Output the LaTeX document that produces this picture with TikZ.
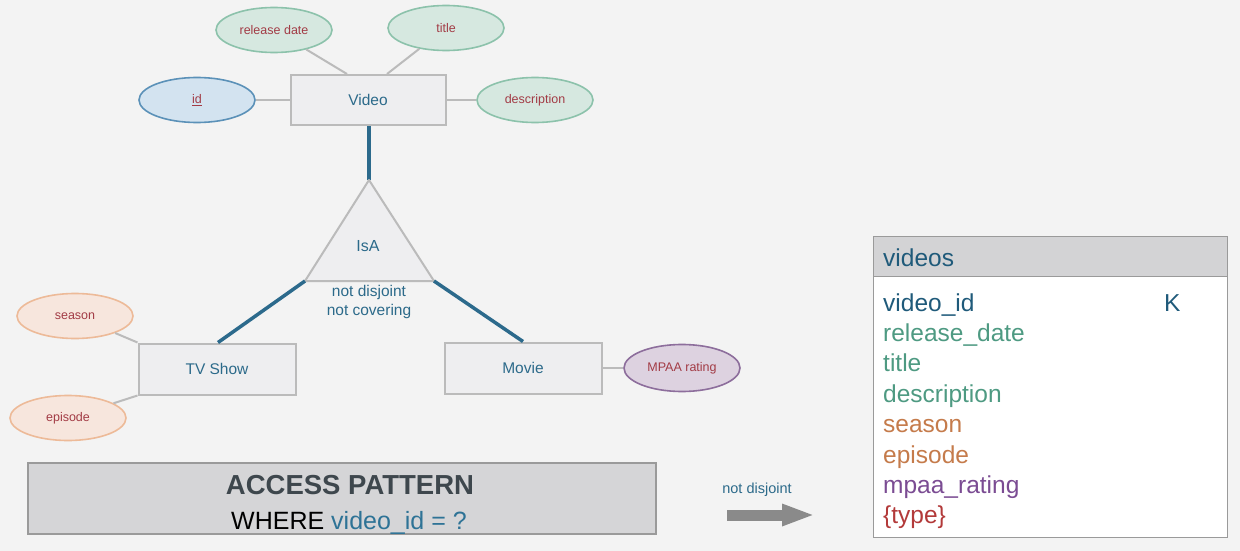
\documentclass[tikz,border=0pt]{standalone}
\usepackage{fontspec}
\setmainfont{Liberation Sans}
\usetikzlibrary{shapes.geometric,arrows.meta}
\definecolor{bg}{HTML}{F3F3F3}
\definecolor{entb}{HTML}{BBBBBB}
\definecolor{entf}{HTML}{EEEEF0}
\definecolor{entt}{HTML}{2C6A8A}
\definecolor{attrt}{HTML}{A23B45}
\definecolor{grf}{HTML}{D6E8E0}
\definecolor{grb}{HTML}{8CC2AB}
\definecolor{blf}{HTML}{D3E3F0}
\definecolor{blb}{HTML}{5B91B8}
\definecolor{saf}{HTML}{F7E6DD}
\definecolor{sab}{HTML}{EDBA98}
\definecolor{puf}{HTML}{DDD2E0}
\definecolor{pub}{HTML}{8D6E9C}
\definecolor{lineg}{HTML}{BBBBBB}
\definecolor{blu}{HTML}{2C6A8C}
\definecolor{apf}{HTML}{D5D5D7}
\definecolor{apb}{HTML}{9A9A9A}
\definecolor{apt}{HTML}{3E474D}
\definecolor{wblue}{HTML}{2E7396}
\definecolor{arrg}{HTML}{8A8A8A}
\definecolor{hdf}{HTML}{D3D3D5}
\definecolor{tid}{HTML}{1F5A7A}
\definecolor{tgreen}{HTML}{4E9A82}
\definecolor{torange}{HTML}{C57B4B}
\definecolor{tpurple}{HTML}{7B4C93}
\definecolor{tred}{HTML}{B33A3A}
\begin{document}
\begin{tikzpicture}[x=1pt,y=-1pt,
  entity/.style={draw=entb, line width=2pt, fill=entf, minimum width=155pt, minimum height=50pt, inner sep=0pt, text=entt, font=\fontsize{15.5}{18}\selectfont},
  attr/.style={ellipse, line width=1.6pt, minimum width=116pt, minimum height=45pt, inner sep=0pt, text=attrt, font=\fontsize{12.5}{15}\selectfont},
  gattr/.style={attr, draw=grb, fill=grf},
  battr/.style={attr, draw=blb, fill=blf},
  sattr/.style={attr, draw=sab, fill=saf},
  pattr/.style={attr, draw=pub, fill=puf},
  conn/.style={draw=lineg, line width=2pt},
  isaline/.style={draw=blu, line width=3.5pt},
  bluetext/.style={text=entt, inner sep=0pt, font=\fontsize{15.5}{19}\selectfont},
  rowtext/.style={anchor=base west, inner sep=0pt, font=\fontsize{24.5}{28}\selectfont},
]
\fill[bg] (0,0) rectangle (1240,551);
\useasboundingbox (0,0) rectangle (1240,551);

% ER diagram
\node[entity] (video) at (368,100) {Video};
\node[gattr] (reldate) at (274,30) {release date};
\node[gattr] (title) at (446,28) {title};
\node[battr] (id) at (197,100) {\underline{id}};
\node[gattr] (desc) at (535,100) {description};

\draw[conn] ([xshift=-21pt]video.north) -- (reldate);
\draw[conn] ([xshift=19pt]video.north) -- (title);
\draw[conn] (video.west) -- (id);
\draw[conn] (video.east) -- (desc);

\coordinate (apex) at (369,180);
\coordinate (bl) at (305,281);
\coordinate (br) at (434,281);
\draw[isaline] (video.south -| apex) -- (apex);
\filldraw[fill=entf, draw=entb, line width=2pt, line join=round] (apex) -- (bl) -- (br) -- cycle;
\node[bluetext, font=\fontsize{16}{19}\selectfont] (isa) at (368,246) {IsA};
\node[bluetext, align=center] (isanote) at (369,302) {not disjoint\\not covering};

\node[entity, minimum width=157pt, minimum height=51pt] (tv) at (217,369) {TV Show};
\node[entity, minimum width=157pt, minimum height=51pt] (movie) at (523,368) {Movie};
\draw[isaline] (bl) -- ([xshift=1pt]tv.north);
\draw[isaline] (br) -- (movie.north);

\node[sattr] (season) at (75,316) {season};
\node[sattr] (episode) at (68,418) {episode};
\node[pattr, minimum height=47pt] (mpaa) at (682,368) {MPAA rating};
\draw[conn] (tv.north west) -- (season);
\draw[conn] (tv.south west) -- (episode);
\draw[conn] (movie.east) -- (mpaa);

% access pattern
\node[draw=apb, fill=apf, line width=1.2pt, minimum width=628pt, minimum height=71pt, inner sep=0pt] (access) at (342,498.5) {};
\node[anchor=base, inner sep=0pt, text=apt, font=\fontsize{27.5}{30}\selectfont\bfseries] (aptitle) at (350,494) {ACCESS PATTERN};
\node[anchor=base, inner sep=0pt, font=\fontsize{25}{28}\selectfont] (apwhere) at (349,529) {WHERE \textcolor{wblue}{video\_id = ?}};

% arrow
\node[bluetext, font=\fontsize{14.5}{17}\selectfont] (nd) at (757,490) {not disjoint};
\coordinate (arrs) at (727,515);
\coordinate (arre) at (815,515);
\draw[draw=arrg, line width=11pt, -{Triangle[length=33pt,width=20pt]}] (arrs) -- (arre);

% table
\node[draw=apb, fill=white, line width=1.2pt, anchor=north west, minimum width=354pt, minimum height=301pt, inner sep=0pt] (tbody) at (873,236) {};
\node[draw=apb, fill=hdf, line width=1.2pt, anchor=north west, minimum width=354pt, minimum height=40pt, inner sep=0pt] (thead) at (873,236) {};
\node[rowtext, text=tid] (thname) at (883,266) {videos};
\node[rowtext, text=tid] (r1) at (883,311) {video\_id};
\node[rowtext, text=tid] (rk) at (1164,311) {K};
\node[rowtext, text=tgreen] (r2) at (883,341.4) {release\_date};
\node[rowtext, text=tgreen] (r3) at (883,371.8) {title};
\node[rowtext, text=tgreen] (r4) at (883,402.2) {description};
\node[rowtext, text=torange] (r5) at (883,432.6) {season};
\node[rowtext, text=torange] (r6) at (883,463) {episode};
\node[rowtext, text=tpurple] (r7) at (883,493.4) {mpaa\_rating};
\node[rowtext, text=tred] (r8) at (883,523.8) {\{type\}};
\end{tikzpicture}
\end{document}
